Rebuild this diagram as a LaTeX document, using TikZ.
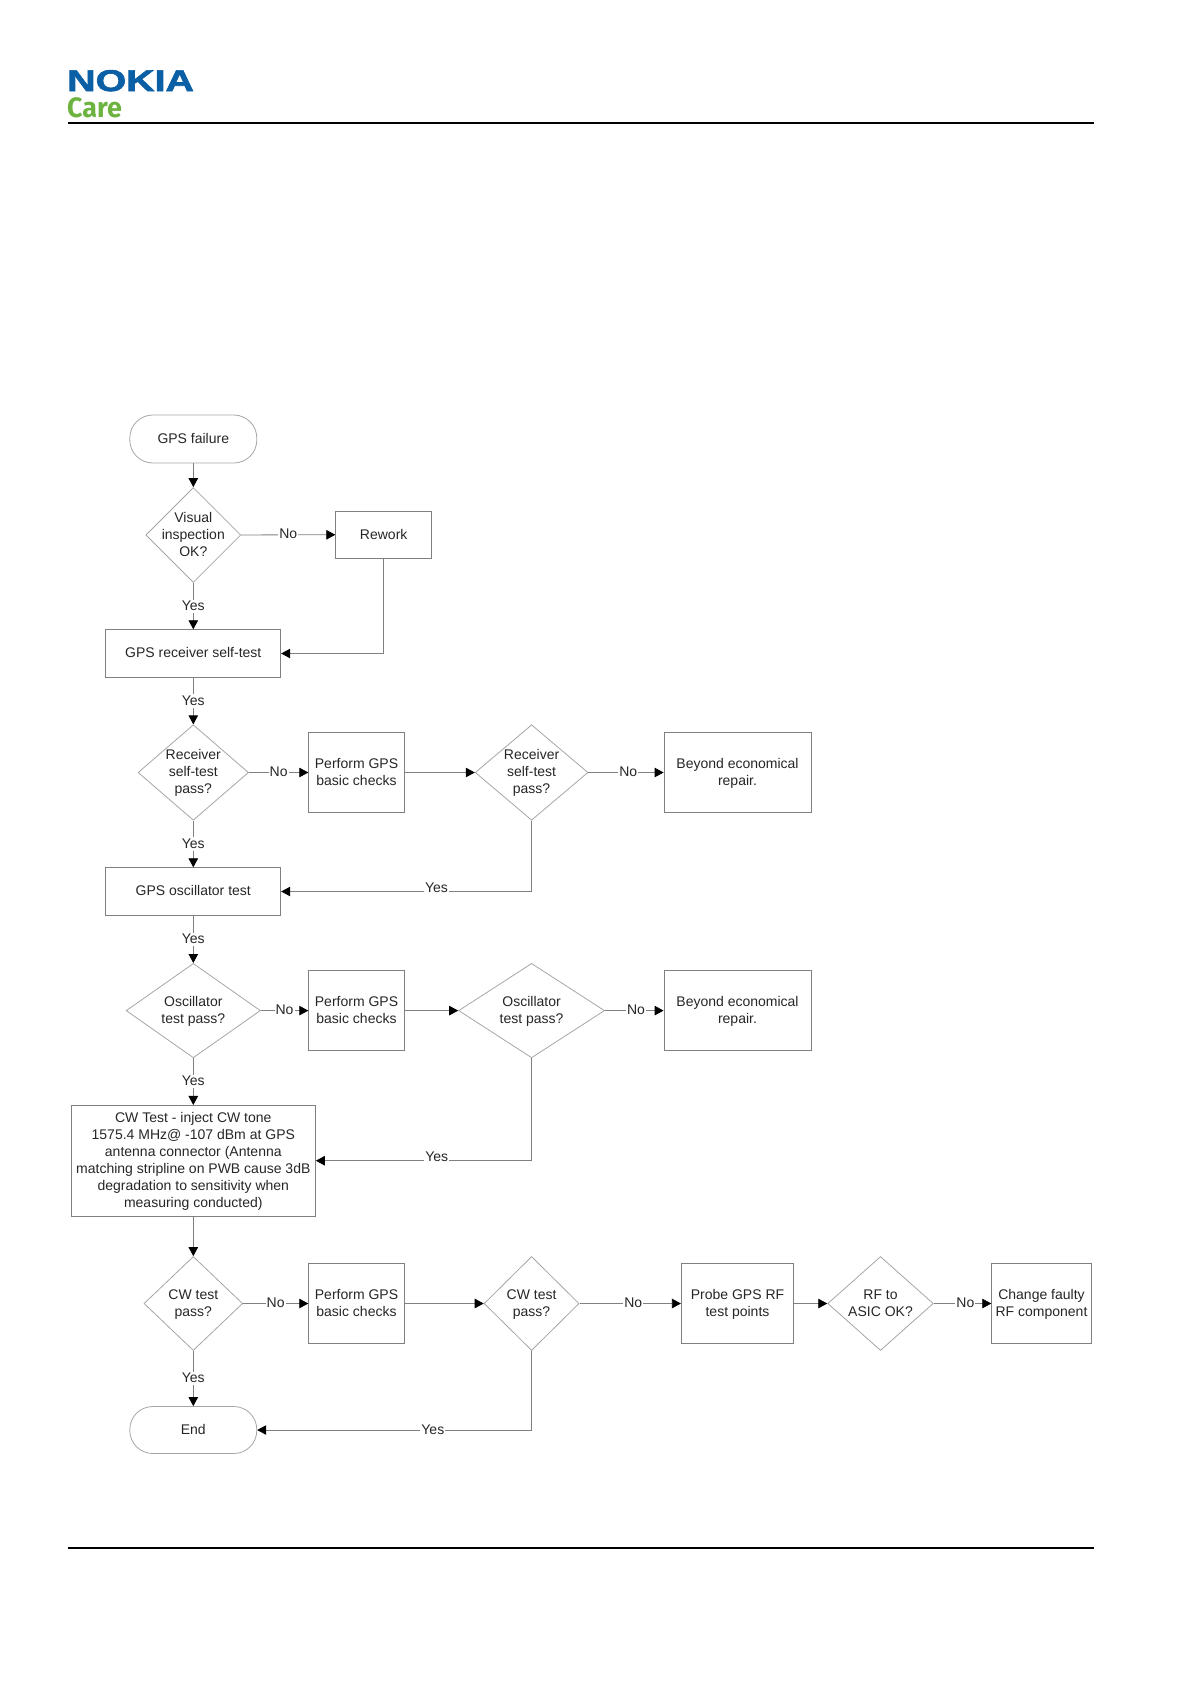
\documentclass[tikz,border=0pt]{standalone}
\usepackage{fontspec}
\setmainfont{Liberation Sans}
\newfontfamily\carefont{Fira Sans}
\newfontfamily\logofont[BoldFeatures={FakeBold=2}]{Liberation Sans}
\usetikzlibrary{arrows.meta,shapes.geometric}
\definecolor{ink}{HTML}{808080}
\definecolor{soft}{HTML}{A6A6A6}
\definecolor{nokiablue}{HTML}{0B5FA5}
\definecolor{caregreen}{HTML}{6DB33F}
\tikzset{
  txt/.style={font=\fontsize{14}{17}\selectfont,text=black!85,align=center,inner sep=0pt,text depth=1.5pt},
  box/.style={txt,rectangle,draw=ink,line width=.8pt},
  term/.style={box,rounded corners=23pt,draw=soft},
  dia/.style={txt,diamond,draw=soft,line width=.8pt,inner sep=-30pt},
  ar/.style={-{Triangle[length=9pt,width=9.5pt,color=black,fill=black]},draw=ink,line width=.8pt},
  lab/.style={txt,fill=white,inner sep=1pt},
  rule/.style={draw=black,line width=1.8pt},
}
\begin{document}
\begin{tikzpicture}[x=1pt,y=-1pt]
  \useasboundingbox (0,0) rectangle (1191,1684);
  % header and footer
  \node[anchor=west,inner sep=0pt,xscale=1.31,text=nokiablue,font=\fontsize{30}{30}\selectfont\logofont\bfseries] (logo) at (67,80.7) {NOKIA};
  \node[anchor=west,inner sep=0pt,xscale=.96,text=caregreen,font=\fontsize{28}{28}\selectfont\carefont\bfseries] (care) at (67,108) {Care};
  \coordinate (hl) at (68,122.7); \coordinate (hr) at (1094,122.7);
  \coordinate (fl) at (68,1547.6); \coordinate (fr) at (1094,1547.6);
  \draw[rule] (hl) -- (hr);
  \draw[rule] (fl) -- (fr);
  % first column
  \node[term,minimum width=127pt,minimum height=48pt] (start) at (193.3,439) {GPS failure};
  \node[dia,minimum width=95pt,minimum height=95pt] (vis) at (193.3,535) {Visual\\inspection\\OK?};
  \node[box,minimum width=96pt,minimum height=47pt] (rework) at (383.7,534.7) {Rework};
  \node[box,minimum width=175pt,minimum height=47.6pt] (recv) at (193.3,653.5) {GPS receiver self-test};
  \node[dia,minimum width=110.5pt,minimum height=95.5pt] (rcd) at (193.3,772.5) {Receiver\\self-test\\pass?};
  \node[box,minimum width=175pt,minimum height=47.6pt] (osc) at (193.3,891.5) {GPS oscillator test};
  \node[dia,minimum width=134.3pt,minimum height=94.4pt] (ocd) at (193.3,1010.6) {Oscillator\\test pass?};
  \node[box,minimum width=244.3pt,minimum height=110.7pt] (cw) at (193.3,1160.7) {CW Test - inject CW tone\\1575.4 MHz@ -107 dBm at GPS\\antenna connector (Antenna\\matching stripline on PWB cause 3dB\\degradation to sensitivity when\\measuring conducted)};
  \node[dia,minimum width=98.7pt,minimum height=94pt] (cwd) at (193.3,1303.5) {CW test\\pass?};
  \node[term,minimum width=127pt,minimum height=47pt] (end) at (193.3,1430) {End};
  % checks and second decisions
  \foreach \n/\y in {a/772.5,b/1010.6,c/1303.5} {
    \node[box,minimum width=95.6pt,minimum height=80pt] (chk\n) at (356.5,\y) {Perform GPS\\basic checks};
  }
  \node[dia,minimum width=112.8pt,minimum height=95.5pt] (rcd2) at (531.6,772.5) {Receiver\\self-test\\pass?};
  \node[dia,minimum width=146pt,minimum height=94.4pt] (ocd2) at (531.6,1010.6) {Oscillator\\test pass?};
  \node[dia,minimum width=95pt,minimum height=94pt] (cwd2) at (531.6,1303.5) {CW test\\pass?};
  \foreach \n/\y in {a/772.5,b/1010.6} {
    \node[box,minimum width=147pt,minimum height=80pt] (ber\n) at (737.5,\y) {Beyond economical\\repair.};
  }
  \node[box,minimum width=112.4pt,minimum height=80pt] (probe) at (737.5,1303.5) {Probe GPS RF\\test points};
  \node[dia,minimum width=105.6pt,minimum height=94pt] (rfd) at (880.5,1303.5) {RF to\\ASIC OK?};
  \node[box,minimum width=99.6pt,minimum height=80pt] (chg) at (1041.5,1303.5) {Change faulty\\RF component};
  % connectors
  \draw[ar] (start) -- (vis);
  \draw[ar] (vis) -- node[lab] {No} (rework);
  \draw[ar] (vis) -- node[lab] {Yes} (recv);
  \draw[ar] (rework) |- (recv);
  \draw[ar] (recv) -- node[lab] {Yes} (rcd);
  \draw[ar] (rcd) -- node[lab] {No} (chka);
  \draw[ar] (chka) -- (rcd2);
  \draw[ar] (rcd2) -- node[lab,pos=.53] {No} (bera);
  \draw[ar] (rcd) -- node[lab] {Yes} (osc);
  \draw[ar] (rcd2) |- node[lab,pos=.69,yshift=3.5pt] {Yes} (osc);
  \draw[ar] (osc) -- node[lab] {Yes} (ocd);
  \draw[ar] (ocd) -- node[lab] {No} (chkb);
  \draw[ar] (chkb) -- (ocd2);
  \draw[ar] (ocd2) -- node[lab,pos=.53] {No} (berb);
  \draw[ar] (ocd) -- node[lab] {Yes} (cw);
  \draw[ar] (ocd2) |- node[lab,pos=.72,yshift=3.5pt] {Yes} (cw);
  \draw[ar] (cw) -- (cwd);
  \draw[ar] (cwd) -- node[lab] {No} (chkc);
  \draw[ar] (chkc) -- (cwd2);
  \draw[ar] (cwd2) -- node[lab,pos=.53] {No} (probe);
  \draw[ar] (probe) -- (rfd);
  \draw[ar] (rfd) -- node[lab,pos=.55] {No} (chg);
  \draw[ar] (cwd) -- node[lab] {Yes} (end);
  \draw[ar] (cwd2) |- node[lab,pos=.68] {Yes} (end);
\end{tikzpicture}
\end{document}
